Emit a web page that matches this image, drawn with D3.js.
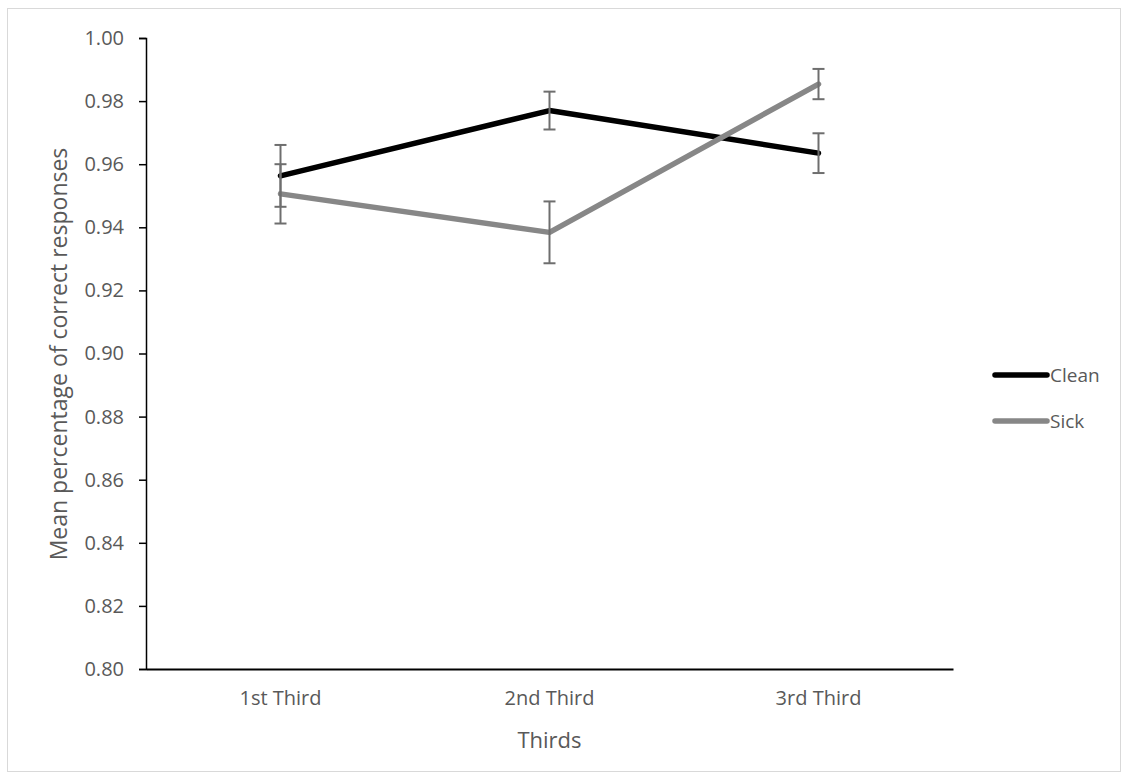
<!DOCTYPE html>
<html><head><meta charset="utf-8">
<script src="https://cdn.jsdelivr.net/npm/d3@7"></script>
<style>body{margin:0;background:#fff}svg{display:block}text{font-family:"Open Sans",sans-serif;fill:#595959}</style>
</head><body>
<script>
const categories = ["1st Third", "2nd Third", "3rd Third"];
const cleanValues = [0.9563, 0.9770, 0.9635];
const cleanErrors = [0.0098, 0.0060, 0.0063];
const sickValues = [0.9506, 0.9384, 0.9854];
const sickErrors = [0.0094, 0.0098, 0.0048];
const yTicks = [0.80, 0.82, 0.84, 0.86, 0.88, 0.90, 0.92, 0.94, 0.96, 0.98, 1.00];

const series = [
  {name: "Clean", values: cleanValues, errors: cleanErrors, color: "#000000"},
  {name: "Sick", values: sickValues, errors: sickErrors, color: "#878787"}
];

(function () {
const W = 1128, H = 780;
const svg = d3.select("body").append("svg").attr("width", W).attr("height", H);
svg.append("rect").attr("x", 7.5).attr("y", 8.5).attr("width", 1113).attr("height", 763)
  .attr("fill", "#fff").attr("stroke", "#d9d9d9").attr("stroke-width", 1);

const mLeft = 146, mRight = 953, mTop = 38, mBottom = 669;
const x = d3.scaleBand().domain(categories).range([mLeft, mRight]);
const y = d3.scaleLinear().domain([0.8, 1.0]).range([mBottom, mTop]);

// y axis
const yAxis = svg.append("g").attr("transform", `translate(${mLeft},0)`)
  .call(d3.axisLeft(y).tickValues(yTicks).tickFormat(d3.format(".2f")).tickSize(7).tickPadding(15));
yAxis.select(".domain").attr("stroke", "#000").attr("stroke-width", 1.5);
yAxis.selectAll(".tick line").attr("stroke", "#000").attr("stroke-width", 1.5);
yAxis.selectAll("text").attr("font-size", 20).style("fill", "#595959");

// x axis
const xAxis = svg.append("g").attr("transform", `translate(0,${mBottom})`)
  .call(d3.axisBottom(x).tickSize(0).tickPadding(22));
xAxis.select(".domain").attr("stroke", "#000").attr("stroke-width", 2);
xAxis.selectAll("text").attr("font-size", 20).style("fill", "#595959");

// axis titles
svg.append("text").attr("x", (mLeft + mRight) / 2).attr("y", 740).attr("dy", "0.35em").attr("text-anchor", "middle")
  .attr("font-size", 22).text("Thirds");
svg.append("text").attr("transform", `translate(59,354) rotate(-90)`)
  .attr("dy", "0.35em").attr("text-anchor", "middle").attr("font-size", 23).text("Mean percentage of correct responses");

const cx = c => x(c) + x.bandwidth() / 2;
const line = d3.line().x((d, i) => cx(categories[i])).y(d => y(d));

// lines
series.forEach(s => {
  svg.append("path").datum(s.values).attr("d", line).attr("fill", "none")
    .attr("stroke", s.color).attr("stroke-width", 5.5).attr("stroke-linejoin", "round").attr("stroke-linecap", "round");
});

// error bars
series.forEach(s => {
  const g = svg.append("g").attr("stroke", "#6e6e6e").attr("stroke-width", 2);
  s.values.forEach((v, i) => {
    const px = cx(categories[i]);
    const y1 = y(v + s.errors[i]), y0 = y(v - s.errors[i]);
    g.append("line").attr("x1", px).attr("x2", px).attr("y1", y1).attr("y2", y0);
    g.append("line").attr("x1", px - 6).attr("x2", px + 6).attr("y1", y1).attr("y2", y1);
    g.append("line").attr("x1", px - 6).attr("x2", px + 6).attr("y1", y0).attr("y2", y0);
  });
});

// legend
const legendY = [375, 421];
series.forEach((s, i) => {
  svg.append("line").attr("x1", 995).attr("x2", 1047).attr("y1", legendY[i]).attr("y2", legendY[i])
    .attr("stroke", s.color).attr("stroke-width", 5.5).attr("stroke-linecap", "round");
  svg.append("text").attr("x", 1050).attr("y", legendY[i]).attr("dy", "0.35em")
    .attr("font-size", 19).text(s.name);
});
})();
</script>
</body></html>
